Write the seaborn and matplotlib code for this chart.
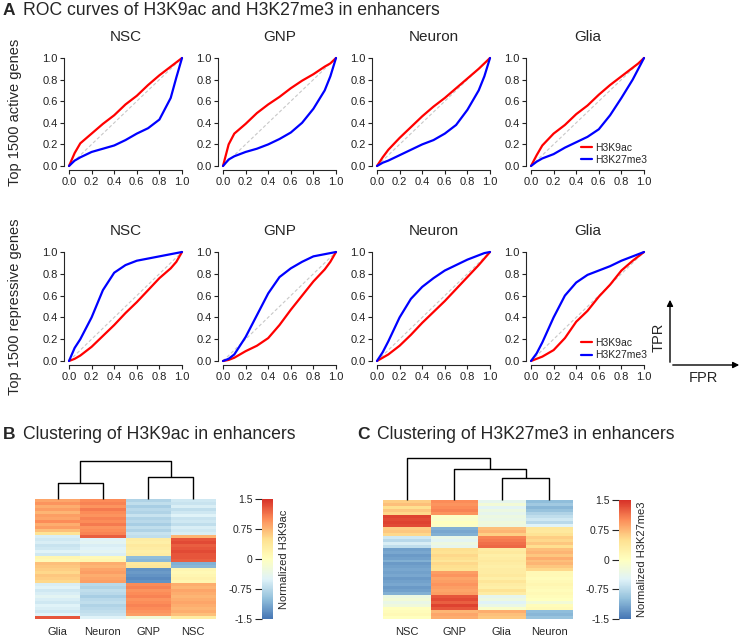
import numpy as np
import pandas as pd
import seaborn as sns
import matplotlib.pyplot as plt
from matplotlib.colors import LinearSegmentedColormap
from matplotlib.patches import FancyArrowPatch

W, H = 743, 639

cells = ["NSC", "GNP", "Neuron", "Glia"]
marks = ["H3K9ac", "H3K27me3"]
fpr = [0, 0.05, 0.1, 0.2, 0.3, 0.4, 0.5, 0.6, 0.7, 0.8, 0.9, 0.95, 1.0]

# TPR, top 1500 active genes
active_k9 = {
    "NSC":    [0, 0.12, 0.21, 0.30, 0.39, 0.47, 0.57, 0.65, 0.75, 0.84, 0.92, 0.96, 1.0],
    "GNP":    [0, 0.20, 0.30, 0.39, 0.49, 0.57, 0.64, 0.72, 0.79, 0.85, 0.92, 0.95, 1.0],
    "Neuron": [0, 0.08, 0.15, 0.26, 0.36, 0.46, 0.55, 0.63, 0.72, 0.81, 0.90, 0.95, 1.0],
    "Glia":   [0, 0.10, 0.19, 0.30, 0.38, 0.48, 0.56, 0.66, 0.75, 0.83, 0.91, 0.95, 1.0],
}
active_k27 = {
    "NSC":    [0, 0.05, 0.08, 0.13, 0.16, 0.19, 0.24, 0.30, 0.35, 0.43, 0.63, 0.82, 1.0],
    "GNP":    [0, 0.06, 0.09, 0.13, 0.16, 0.20, 0.25, 0.31, 0.40, 0.53, 0.70, 0.83, 1.0],
    "Neuron": [0, 0.03, 0.05, 0.10, 0.15, 0.20, 0.24, 0.30, 0.38, 0.52, 0.70, 0.83, 1.0],
    "Glia":   [0, 0.04, 0.07, 0.11, 0.17, 0.22, 0.27, 0.34, 0.47, 0.63, 0.80, 0.90, 1.0],
}
# top 1500 repressive genes
repress_k9 = {
    "NSC":    [0, 0.02, 0.05, 0.13, 0.23, 0.33, 0.44, 0.54, 0.65, 0.76, 0.85, 0.91, 1.0],
    "GNP":    [0, 0.01, 0.03, 0.09, 0.14, 0.21, 0.33, 0.47, 0.60, 0.73, 0.84, 0.91, 1.0],
    "Neuron": [0, 0.03, 0.06, 0.14, 0.24, 0.35, 0.45, 0.55, 0.66, 0.77, 0.88, 0.94, 1.0],
    "Glia":   [0, 0.02, 0.04, 0.10, 0.21, 0.36, 0.46, 0.59, 0.70, 0.83, 0.92, 0.96, 1.0],
}
repress_k27 = {
    "NSC":    [0, 0.12, 0.20, 0.40, 0.65, 0.81, 0.88, 0.92, 0.94, 0.96, 0.98, 0.99, 1.0],
    "GNP":    [0, 0.02, 0.06, 0.22, 0.42, 0.62, 0.77, 0.85, 0.91, 0.96, 0.98, 0.99, 1.0],
    "Neuron": [0, 0.08, 0.18, 0.40, 0.57, 0.68, 0.76, 0.83, 0.88, 0.93, 0.97, 0.99, 1.0],
    "Glia":   [0, 0.07, 0.17, 0.40, 0.60, 0.72, 0.79, 0.83, 0.87, 0.92, 0.96, 0.98, 1.0],
}

# heatmap B: normalized H3K9ac, column order after clustering
k9_cols = ["Glia", "Neuron", "GNP", "NSC"]
k9_glia = [0.85, 0.95, 0.80, 0.90, 0.75, 0.90, 0.85, 1.00, 0.80, 0.90, 0.70, 0.45,
           -0.55, -0.60, -0.55, -0.65, -0.60, -0.50, -0.60, 0.15, 0.10, 0.70, 0.65,
           0.60, 0.55, 0.65, 0.60, 0.55, -0.55, -0.50, -0.60, -0.55, -0.45, -0.55,
           -0.60, -0.50, -0.55, -0.60, -0.50, 1.30]
k9_neuron = [1.00, 1.05, 0.95, 1.10, 1.00, 0.95, 1.05, 1.00, 1.10, 0.95, 1.00, 1.05,
             1.25, -0.50, -0.45, -0.55, -0.50, -0.45, -0.55, 0.10, 0.15, 0.80, 0.75,
             0.85, 0.90, 0.80, 0.85, 0.90, -0.75, -0.80, -0.70, -0.75, -0.85, -0.75,
             -0.70, -0.80, -0.75, -0.70, -0.65, -0.50]
k9_gnp = [-0.80, -0.70, -0.85, -0.75, -0.80, -0.65, -0.80, -0.75, -0.85, -0.70, -0.80, -0.65,
          -0.70, 0.30, 0.25, 0.35, 0.30, 0.25, 0.30, -1.00, -1.05, 0.35, 0.40,
          -1.30, -1.25, -1.30, -1.35, -1.30, 1.00, 1.05, 0.95, 1.00, 1.05, 0.95,
          1.00, 1.05, 1.00, 0.95, 0.90, -0.20]
k9_nsc = [-0.60, -0.65, -0.55, -0.70, -0.60, -0.50, -0.65, -0.60, -0.70, -0.55, -0.60, -0.55,
          0.75, 1.30, 1.35, 1.25, 1.30, 1.35, 1.30, 1.30, 1.25, -1.10, -1.05,
          0.15, 0.10, 0.15, 0.20, 0.15, 0.80, 0.75, 0.85, 0.80, 0.75, 0.80,
          0.85, 0.80, 0.75, 0.80, 0.70, 0.30]

# heatmap C: normalized H3K27me3
k27_cols = ["NSC", "GNP", "Glia", "Neuron"]
k27_nsc = [0.60, 0.70, 0.50, 0.65, 0.55, 1.40, 1.35, 1.40, 1.35, 0.60, 0.65, 0.55,
           -0.60, -0.75, -0.55, -0.70, -1.20, -1.15, -1.25, -1.20, -1.10, -1.25, -1.20, -1.15,
           -1.20, -1.15, -1.25, -1.20, -1.15, -1.25, -1.20, -1.10,
           -0.30, -0.20, -0.35, -0.25, 0.00, 0.05, 0.10, 0.00]
k27_gnp = [1.00, 0.95, 1.00, 1.05, 0.95, -0.05, -0.10, 0.00, -0.05, -1.10, -1.15, -1.10,
           -0.35, -0.45, -0.30, -0.40, 0.50, 0.45, 0.55, 0.50, 0.40, 0.55, 0.50, 0.45,
           0.90, 0.95, 0.85, 0.90, 0.95, 0.90, 0.85, 0.90,
           1.30, 1.35, 1.25, 1.40, 1.30, 0.75, 0.85, 0.80]
k27_glia = [-0.40, -0.20, -0.45, -0.30, -0.40, -0.30, -0.35, -0.25, -0.30, 0.70, 0.75, 0.60,
            1.05, 1.10, 1.15, 1.20, 0.30, 0.35, 0.25, 0.30, 0.35, 0.30, 0.25, 0.30,
            0.30, 0.35, 0.25, 0.40, 0.30, 0.25, 0.45, 0.30,
            -0.40, -0.30, -0.50, -0.35, -0.10, 0.80, 0.70, 0.65]
k27_neuron = [-1.00, -0.90, -1.05, -0.95, -0.80, -0.70, -0.60, -0.75, -0.50, 0.40, 0.35, 0.45,
              0.60, 0.55, 0.65, 0.50, 0.70, 0.75, 0.65, 0.80, 0.70, 0.75, 0.65, 0.55,
              0.10, 0.10, 0.05, 0.10, 0.15, 0.10, 0.05, 0.10,
              0.05, 0.00, -0.20, 0.05, 0.10, -1.00, -1.05, -0.95]

# dendrogram merges (child, child, height); leaves are 0..3 in column order
k9_links = [(0, 1, 0.42), (2, 3, 0.58), (4, 5, 1.0)]
k27_links = [(2, 3, 0.52), (1, 4, 0.74), (0, 5, 1.0)]

cbar_ticks = [-1.5, -0.75, 0, 0.75, 1.5]
cbar_labels = ["-1.5", "-0.75", "0", "0.75", "1.5"]

sns.set_style("ticks")
plt.rcParams["font.family"] = ["Liberation Sans", "DejaVu Sans"]
plt.rcParams["axes.linewidth"] = 0.8

fig = plt.figure(figsize=(W / 100, H / 100), dpi=100)


def px_axes(left, top, width, height):
    return fig.add_axes([left / W, 1 - (top + height) / H, width / W, height / H])


rows = []
for genes, k9, k27 in [("active", active_k9, active_k27), ("repressive", repress_k9, repress_k27)]:
    for cell in cells:
        for mark, vals in [("H3K9ac", k9[cell]), ("H3K27me3", k27[cell])]:
            for f, t in zip(fpr, vals):
                rows.append({"genes": genes, "cell": cell, "mark": mark, "fpr": f, "tpr": t})
roc = pd.DataFrame(rows)

palette = {"H3K9ac": "#ff0000", "H3K27me3": "#0000ff"}
x_starts = [69, 223, 377, 531]
row_specs = [("active", 58, 108, "Top 1500 active genes"),
             ("repressive", 252, 109, "Top 1500 repressive genes")]

for genes, y_top, hd, ylab in row_specs:
    wd = 113
    for cell, x0 in zip(cells, x_starts):
        ax = px_axes(x0 - 0.04 * wd, y_top - 0.04 * hd, wd * 1.08, hd * 1.08)
        ax.plot([0, 1], [0, 1], color="#c8c8c8", lw=0.8, ls=(0, (3, 2)))
        sub = roc[(roc.genes == genes) & (roc.cell == cell)]
        sns.lineplot(data=sub, x="fpr", y="tpr", hue="mark", hue_order=marks,
                     palette=palette, lw=1.6, ax=ax, sort=False, estimator=None,
                     legend=(cell == "Glia"))
        ax.set_xlim(-0.04, 1.04)
        ax.set_ylim(-0.04, 1.04)
        ax.set_xticks([0, 0.2, 0.4, 0.6, 0.8, 1.0])
        ax.set_yticks([0, 0.2, 0.4, 0.6, 0.8, 1.0])
        ax.set_xticklabels(["0.0", "0.2", "0.4", "0.6", "0.8", "1.0"])
        ax.set_yticklabels(["0.0", "0.2", "0.4", "0.6", "0.8", "1.0"])
        ax.tick_params(labelsize=8, length=3, width=0.8, pad=2, colors="#222222")
        ax.spines["left"].set_bounds(0, 1)
        ax.spines["bottom"].set_bounds(0, 1)
        sns.despine(ax=ax)
        ax.set_xlabel("")
        ax.set_ylabel("")
        ax.set_title(cell, fontsize=11, pad=9)
        if cell == "Glia":
            handles, labels = ax.get_legend_handles_labels()
            ax.legend(handles, labels, loc="lower right", frameon=False, fontsize=7.5,
                      handlelength=1.0, handletextpad=0.3, labelspacing=0.25,
                      borderaxespad=0.1, bbox_to_anchor=(1.03, 0.0))
    fig.text(15 / W, 1 - (y_top + hd / 2) / H, ylab, rotation=90, fontsize=10.5,
             ha="center", va="center")

fig.text(3 / W, 1 - 15 / H, "A", fontsize=12.5, fontweight="bold", va="baseline")
fig.text(23 / W, 1 - 15 / H, "ROC curves of H3K9ac and H3K27me3 in enhancers",
         fontsize=12.7, va="baseline")

# TPR / FPR key
fig.add_artist(FancyArrowPatch((670 / W, 1 - 365 / H), (670 / W, 1 - 297 / H),
                               transform=fig.transFigure, arrowstyle="-|>",
                               mutation_scale=9, lw=1, color="black"))
fig.add_artist(FancyArrowPatch((670 / W, 1 - 365 / H), (742 / W, 1 - 365 / H),
                               transform=fig.transFigure, arrowstyle="-|>",
                               mutation_scale=9, lw=1, color="black"))
fig.text(659 / W, 1 - 337 / H, "TPR", rotation=90, fontsize=10.5, ha="center", va="center")
fig.text(703 / W, 1 - 378 / H, "FPR", fontsize=10.5, ha="center", va="center")

cmap = LinearSegmentedColormap.from_list(
    "pheat", ["#4575B4", "#91BFDB", "#E0F3F8", "#FFFFBF", "#FEE090", "#FC8D59", "#D73027"])


def draw_dendro(ax, links):
    xs = {0: 0.5, 1: 1.5, 2: 2.5, 3: 3.5}
    hs = {0: 0.0, 1: 0.0, 2: 0.0, 3: 0.0}
    nxt = 4
    for a, b, h in links:
        ax.plot([xs[a], xs[a], xs[b], xs[b]], [hs[a], h, h, hs[b]],
                color="black", lw=1.0, clip_on=False, solid_capstyle="butt")
        xs[nxt] = (xs[a] + xs[b]) / 2
        hs[nxt] = h
        nxt += 1
    ax.set_xlim(0, 4)
    ax.set_ylim(0, 1.0)
    ax.axis("off")


def draw_heat(cols, values, links, hm_box, cb_box, dd_box, label):
    df = pd.DataFrame(dict(zip(cols, values)), columns=cols)
    ax = px_axes(*hm_box)
    cax = px_axes(*cb_box)
    sns.heatmap(df, ax=ax, cmap=cmap, vmin=-1.5, vmax=1.5, cbar_ax=cax,
                yticklabels=False, xticklabels=cols, cbar_kws={"ticks": cbar_ticks})
    ax.tick_params(axis="x", length=0, pad=6, labelsize=8, rotation=0)
    ax.set_ylabel("")
    cax.yaxis.tick_left()
    cax.set_yticks(cbar_ticks)
    cax.set_yticklabels(cbar_labels)
    cax.tick_params(labelsize=7.5, length=5, width=0.8, pad=2)
    cax.yaxis.set_label_position("right")
    cax.set_ylabel(label, fontsize=8, labelpad=4)
    for s in cax.spines.values():
        s.set_visible(False)
    dax = px_axes(*dd_box)
    draw_dendro(dax, links)


draw_heat(k9_cols, [k9_glia, k9_neuron, k9_gnp, k9_nsc], k9_links,
          (35, 499, 181, 120), (262, 499, 11, 120), (35, 461, 181, 38),
          "Normalized H3K9ac")
draw_heat(k27_cols, [k27_nsc, k27_gnp, k27_glia, k27_neuron], k27_links,
          (383, 500, 190, 119), (619, 500, 12, 119), (383, 458, 190, 42),
          "Normalized H3K27me3")

fig.text(3 / W, 1 - 439 / H, "B", fontsize=12.5, fontweight="bold", va="baseline")
fig.text(23 / W, 1 - 439 / H, "Clustering of H3K9ac in enhancers", fontsize=12.7,
         va="baseline")
fig.text(357 / W, 1 - 439 / H, "C", fontsize=12.5, fontweight="bold", va="baseline")
fig.text(377 / W, 1 - 439 / H, "Clustering of H3K27me3 in enhancers", fontsize=12.7,
         va="baseline")

fig.savefig("out.png", dpi=100)
